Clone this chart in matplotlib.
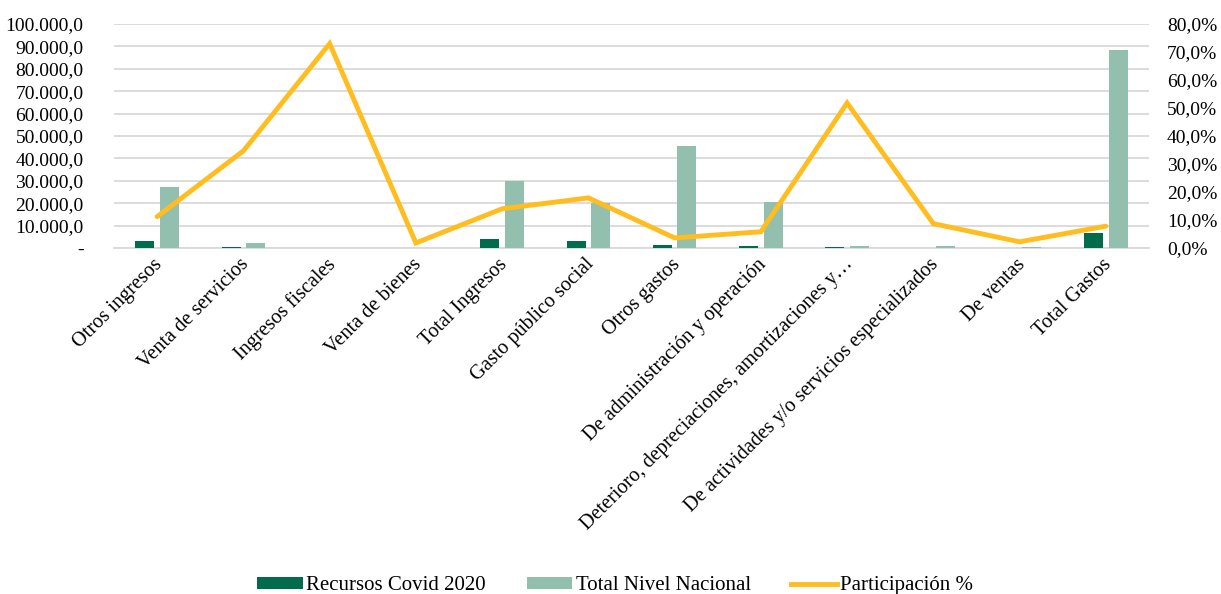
import matplotlib
matplotlib.use("Agg")
import matplotlib.pyplot as plt
import matplotlib.transforms as mtransforms
import numpy as np
from matplotlib.ticker import FuncFormatter, MultipleLocator
from matplotlib.lines import Line2D
from matplotlib.patches import Patch

plt.rcParams["font.family"] = ["Liberation Serif", "DejaVu Serif"]

categories = [
    "Otros ingresos", "Venta de servicios", "Ingresos fiscales", "Venta de bienes",
    "Total Ingresos", "Gasto público social", "Otros gastos",
    "De administración y operación",
    "Deterioro, depreciaciones, amortizaciones y…",
    "De actividades y/o servicios especializados", "De ventas", "Total Gastos",
]
recursos_covid = [3100, 400, 50, 0, 4000, 3300, 1300, 900, 400, 0, 0, 6900]
total_nacional = [27200, 2100, 70, 0, 29900, 20000, 45500, 20500, 900, 900, 300, 88400]
participacion = [11.2, 34.7, 73.0, 1.8, 14.0, 17.9, 3.6, 5.8, 51.8, 8.7, 2.2, 7.8]

DARK = "#006B4D"
LIGHT = "#93BFAE"
GOLD = "#FFBD1F"
GRID = "#D9D9D9"
FS = 14
FS_CAT = 14.6
FS_LEG = 15

fig = plt.figure(figsize=(12.21, 5.94), dpi=100)
ax = fig.add_axes([0.0934, 0.5825, 0.8476, 0.3771])
ax2 = ax.twinx()

x = np.arange(len(categories))
w = 0.22
ax.bar(x - 0.142, recursos_covid, w, color=DARK, zorder=3)
ax.bar(x + 0.142, total_nacional, w, color=LIGHT, zorder=3)
ax2.plot(x, participacion, color=GOLD, lw=3.5, solid_capstyle="round",
         solid_joinstyle="miter", zorder=4)

ax.set_xlim(-0.5, len(categories) - 0.5)
ax.set_ylim(0, 100000)
ax2.set_ylim(0, 80)
ax.yaxis.set_major_locator(MultipleLocator(10000))
ax2.yaxis.set_major_locator(MultipleLocator(10))

def left_fmt(v, pos):
    if v == 0:
        return "-"
    s = f"{v:,.1f}"
    return s.replace(",", "X").replace(".", ",").replace("X", ".")

def right_fmt(v, pos):
    return f"{v:.1f}".replace(".", ",") + "%"

ax.yaxis.set_major_formatter(FuncFormatter(left_fmt))
ax2.yaxis.set_major_formatter(FuncFormatter(right_fmt))
ax.tick_params(axis="y", length=0, pad=22, labelsize=FS)
ax2.tick_params(axis="y", length=0, pad=13, labelsize=FS)

ax.grid(axis="y", color=GRID, lw=1.3, zorder=0)
ax.set_axisbelow(True)
for a in (ax, ax2):
    for s in a.spines.values():
        s.set_visible(False)
ax.spines["bottom"].set_visible(True)
ax.spines["bottom"].set_color(GRID)
ax.spines["bottom"].set_linewidth(1.3)

ax.set_xticks(x)
ax.set_xticklabels(categories, rotation=45, ha="right", va="top",
                   rotation_mode="anchor", fontsize=FS_CAT)
ax.tick_params(axis="x", length=0, pad=5)
shift = mtransforms.ScaledTranslation(-4 / 100, 0, fig.dpi_scale_trans)
for lab in ax.get_xticklabels():
    lab.set_transform(lab.get_transform() + shift)

handles = [
    Patch(facecolor=DARK, label="Recursos Covid 2020"),
    Patch(facecolor=LIGHT, label="Total Nivel Nacional"),
    Line2D([0], [0], color=GOLD, lw=3.5, label="Participación %"),
]
fig.legend(handles=handles, loc="lower center", bbox_to_anchor=(0.504, -0.034),
           ncol=3, frameon=False, fontsize=FS_LEG, handlelength=2.2,
           handleheight=0.55, handletextpad=0.15, columnspacing=1.95)

fig.savefig("out.png", dpi=100)
